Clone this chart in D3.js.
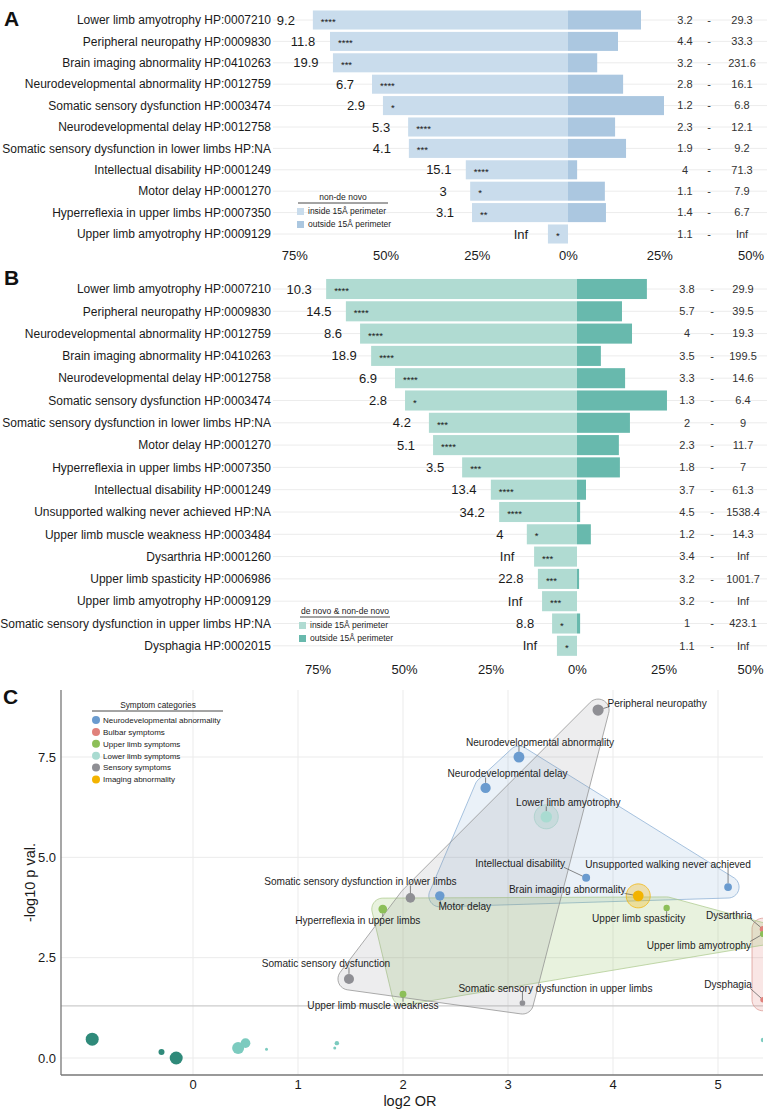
<!DOCTYPE html>
<html>
<head>
<meta charset="utf-8">
<script src="https://cdn.jsdelivr.net/npm/d3@7/dist/d3.min.js"></script>
<style>
body{margin:0;background:#fff}
text{font-family:"Liberation Sans",Arial,Helvetica,sans-serif}
</style>
</head>
<body>
<svg id="fig" width="773" height="1111"></svg>
<script>
// ---- panel A : non-de novo ----
var aLabels = ["Lower limb amyotrophy HP:0007210","Peripheral neuropathy HP:0009830","Brain imaging abnormality HP:0410263",
  "Neurodevelopmental abnormality HP:0012759","Somatic sensory dysfunction HP:0003474","Neurodevelopmental delay HP:0012758",
  "Somatic sensory dysfunction in lower limbs HP:NA","Intellectual disability HP:0001249","Motor delay HP:0001270",
  "Hyperreflexia in upper limbs HP:0007350","Upper limb amyotrophy HP:0009129"];
var aInside  = [69.9, 65.2, 64.4, 53.7, 50.7, 43.8, 43.6, 28.0, 26.8, 26.3, 5.5];
var aOutside = [20.0, 13.7, 8.0, 15.1, 26.3, 12.9, 15.9, 2.5, 10.1, 10.4, 0];
var aOR    = [9.2, 11.8, 19.9, 6.7, 2.9, 5.3, 4.1, 15.1, 3, 3.1, Infinity];
var aStars = ["****","****","***","****","*","****","***","****","*","**","*"];
var aLow   = [3.2, 4.4, 3.2, 2.8, 1.2, 2.3, 1.9, 4, 1.1, 1.4, 1.1];
var aHigh  = [29.3, 33.3, 231.6, 16.1, 6.8, 12.1, 9.2, 71.3, 7.9, 6.7, Infinity];

// ---- panel B : de novo & non-de novo ----
var bLabels = ["Lower limb amyotrophy HP:0007210","Peripheral neuropathy HP:0009830","Neurodevelopmental abnormality HP:0012759",
  "Brain imaging abnormality HP:0410263","Neurodevelopmental delay HP:0012758","Somatic sensory dysfunction HP:0003474",
  "Somatic sensory dysfunction in lower limbs HP:NA","Motor delay HP:0001270","Hyperreflexia in upper limbs HP:0007350",
  "Intellectual disability HP:0001249","Unsupported walking never achieved HP:NA","Upper limb muscle weakness HP:0003484",
  "Dysarthria HP:0001260","Upper limb spasticity HP:0006986","Upper limb amyotrophy HP:0009129",
  "Somatic sensory dysfunction in upper limbs HP:NA","Dysphagia HP:0002015"];
var bInside  = [72.5, 66.8, 62.7, 59.5, 52.6, 49.7, 42.8, 41.6, 33.2, 24.9, 22.5, 14.5, 12.4, 11.3, 10.1, 7.2, 5.8];
var bOutside = [20.2, 13.0, 15.9, 6.9, 13.9, 26.0, 15.3, 12.1, 12.4, 2.6, 0.9, 4.0, 0, 0.6, 0, 0.9, 0];
var bOR    = [10.3, 14.5, 8.6, 18.9, 6.9, 2.8, 4.2, 5.1, 3.5, 13.4, 34.2, 4, Infinity, 22.8, Infinity, 8.8, Infinity];
var bStars = ["****","****","****","****","****","*","***","****","***","****","****","*","***","***","***","*","*"];
var bLow   = [3.8, 5.7, 4, 3.5, 3.3, 1.3, 2, 2.3, 1.8, 3.7, 4.5, 1.2, 3.4, 3.2, 3.2, 1, 1.1];
var bHigh  = [29.9, 39.5, 19.3, 199.5, 14.6, 6.4, 9, 11.7, 7, 61.3, 1538.4, 14.3, Infinity, 1001.7, Infinity, 423.1, Infinity];

// ---- panel C : volcano, same terms as B ----
var cNegLogP  = [6.01, 8.67, 7.50, 4.04, 6.73, 1.97, 3.99, 4.04, 3.71, 4.49, 4.26, 1.59, 3.21, 3.74, 3.09, 1.37, 1.45];
var cCategory = ["lower","sensory","neuro","imaging","neuro","sensory","sensory","neuro","upper","neuro","neuro","upper",
  "bulbar","upper","upper","sensory","bulbar"];
// terms that did not pass the threshold
var nsLog2OR  = [-0.96, -0.30, -0.16, 0.43, 0.50, 0.70, 1.37, 1.35, Infinity];
var nsNegLogP = [0.47, 0.15, 0.00, 0.25, 0.37, 0.22, 0.37, 0.25, 0.45];
var nsSize    = [100, 9, 100, 81, 45, 0, 2, 0, 2];
var nsGroup   = ["out","out","out","in","in","in","in","in","in"];

var catKeys   = ["neuro","bulbar","upper","lower","sensory","imaging"];
var catNames  = ["Neurodevelopmental abnormality","Bulbar symptoms","Upper limb symptoms","Lower limb symptoms","Sensory symptoms","Imaging abnormality"];
var catColors = ["#6a9bcf","#e0817b","#8cbf58","#a9dbd1","#8f8f94","#f3b300"];
var catStroke = ["#86abd2","#d99590","#abc88c","#a9dbd1","#8c8c8c","#f3b300"];
var catFillOp = [0.14, 0.2, 0.2, 0.35, 0.16, 0.3];

// label placement for panel C (text centre relative to point, px)
var labelNudge = {
  "Lower limb amyotrophy":[22,-14], "Peripheral neuropathy":[59,-7], "Neurodevelopmental abnormality":[21,-15],
  "Brain imaging abnormality":[-71,-6], "Neurodevelopmental delay":[22,-14], "Somatic sensory dysfunction":[-23,-15],
  "Somatic sensory dysfunction in lower limbs":[-50,-16], "Motor delay":[25,11], "Hyperreflexia in upper limbs":[-25,11],
  "Intellectual disability":[-66,-14], "Unsupported walking never achieved":[-60,-23], "Upper limb muscle weakness":[-30,11],
  "Dysarthria":[-34,-14], "Upper limb spasticity":[-28,11], "Upper limb amyotrophy":[-64,11],
  "Somatic sensory dysfunction in upper limbs":[33,-15], "Dysphagia":[-35,-15]
};

var svg = d3.select("#fig");
svg.append("rect").attr("width",773).attr("height",1111).attr("fill","#fff");

function fmt(v){ return isFinite(v) ? String(v) : "Inf"; }

function pyramid(cfg){
  var g = svg.append("g");
  var n = cfg.labels.length;
  var x = d3.scaleLinear().domain([-75,50]).range([cfg.zero-75*cfg.k, cfg.zero+50*cfg.k]);
  var y = d3.scaleBand().domain(cfg.labels)
      .range([cfg.y0-cfg.step/2, cfg.y0+(n-0.5)*cfg.step])
      .paddingInner(cfg.pad).paddingOuter(cfg.pad/2);
  var rows = cfg.labels.map(function(l,i){
    return {label:l, inside:cfg.inside[i], outside:cfg.outside[i], or:cfg.or[i], stars:cfg.stars[i], low:cfg.low[i], high:cfg.high[i]};
  });
  var cy = function(d){ return y(d.label)+y.bandwidth()/2; };

  g.append("text").attr("x",4).attr("y",cfg.letterY).text(cfg.letter)
    .attr("font-size",21).attr("font-weight","bold").attr("fill","#111");

  // faint row guides
  g.selectAll(".grid").data(rows).enter().append("line")
    .attr("x1",273).attr("x2",767).attr("y1",cy).attr("y2",cy)
    .attr("stroke","#ececec").attr("stroke-width",1);

  g.selectAll(".lab").data(rows).enter().append("text")
    .attr("x",271).attr("y",cy).attr("dy","0.35em").attr("text-anchor","end")
    .attr("font-size",12).attr("fill","#1a1a1a").text(function(d){return d.label;});

  g.selectAll(".bin").data(rows).enter().append("rect")
    .attr("x",function(d){return x(-d.inside);}).attr("y",function(d){return y(d.label);})
    .attr("width",function(d){return x(0)-x(-d.inside);}).attr("height",y.bandwidth())
    .attr("fill",cfg.cIn);
  g.selectAll(".bout").data(rows).enter().append("rect")
    .attr("x",x(0)).attr("y",function(d){return y(d.label);})
    .attr("width",function(d){return x(d.outside)-x(0);}).attr("height",y.bandwidth())
    .attr("fill",cfg.cOut);

  g.selectAll(".or").data(rows).enter().append("text")
    .attr("x",function(d){return x(-d.inside)-27;}).attr("y",cy).attr("dy","0.35em")
    .attr("text-anchor","middle").attr("font-size",13).attr("fill","#1a1a1a")
    .text(function(d){return fmt(d.or);});
  g.selectAll(".st").data(rows).enter().append("text")
    .attr("x",function(d){return x(-d.inside)+8;}).attr("y",function(d){return cy(d)+5;})
    .attr("font-size",9.5).attr("fill","#1a1a1a").text(function(d){return d.stars;});

  g.selectAll(".lo").data(rows).enter().append("text")
    .attr("x",cfg.ciX[0]).attr("y",cy).attr("dy","0.35em").attr("text-anchor","middle")
    .attr("font-size",11).attr("fill","#333").text(function(d){return fmt(d.low);});
  g.selectAll(".da").data(rows).enter().append("text")
    .attr("x",cfg.ciX[1]).attr("y",cy).attr("dy","0.35em").attr("text-anchor","middle")
    .attr("font-size",11).attr("fill","#333").text("-");
  g.selectAll(".hi").data(rows).enter().append("text")
    .attr("x",cfg.ciX[2]).attr("y",cy).attr("dy","0.35em").attr("text-anchor","middle")
    .attr("font-size",11).attr("fill","#333").text(function(d){return fmt(d.high);});

  var ax = g.append("g").attr("transform","translate(0,"+cfg.axisY+")")
    .call(d3.axisBottom(x).tickValues([-75,-50,-25,0,25,50])
      .tickFormat(function(d){return Math.abs(d)+"%";}).tickSize(0).tickPadding(0));
  ax.select(".domain").remove();
  ax.attr("font-family",null).attr("font-size",null);
  ax.selectAll("text").attr("y",0).attr("dy","0.35em").attr("font-size",13).attr("fill","#1a1a1a");

  // legend
  var lg = g.append("g").attr("transform","translate("+cfg.legX+","+cfg.legY+")");
  lg.append("text").attr("x",45).attr("y",0).attr("dy","0.35em").attr("text-anchor","middle")
    .attr("font-size",8.5).attr("fill","#222").text(cfg.legTitle);
  lg.append("line").attr("x1",0).attr("x2",90).attr("y1",6).attr("y2",6).attr("stroke","#333").attr("stroke-width",0.9);
  [["inside 15Å perimeter",cfg.cIn],["outside 15Å perimeter",cfg.cOut]].forEach(function(it,i){
    lg.append("rect").attr("x",-1).attr("y",11+i*13).attr("width",7).attr("height",7).attr("fill",it[1]);
    lg.append("text").attr("x",10).attr("y",14.5+i*13).attr("dy","0.35em").attr("font-size",8.5)
      .attr("fill","#222").text(it[0]);
  });
}

pyramid({letter:"A", letterY:26, labels:aLabels, inside:aInside, outside:aOutside, or:aOR, stars:aStars, low:aLow, high:aHigh,
  zero:568, k:3.65, y0:20, step:21.4, pad:0.11, axisY:255, ciX:[685,709,742],
  cIn:"#c9dcec", cOut:"#abc7e0", legX:298, legY:197, legTitle:"non-de novo"});
pyramid({letter:"B", letterY:285, labels:bLabels, inside:bInside, outside:bOutside, or:bOR, stars:bStars, low:bLow, high:bHigh,
  zero:577, k:3.46, y0:289, step:22.3, pad:0.1, axisY:669, ciX:[687,712,743],
  cIn:"#b0dbd2", cOut:"#68b9ad", legX:300, legY:611, legTitle:"de novo & non-de novo"});

// ---- panel C ----
var gc = svg.append("g");
var L = 61, R = 763, T = 690, B = 1075;
var xC = d3.scaleLinear().domain([(L-193)/105, (R-193)/105]).range([L,R]);
var yC = d3.scaleLinear().domain([(1058-B)/40.13, (1058-T)/40.13]).range([B,T]);
var rC = d3.scaleSqrt().domain([0,100]).range([1.5,6.5]);
var xPos = function(v){ return isFinite(v) ? xC(v) : R; };
var colorOf = d3.scaleOrdinal().domain(catKeys).range(catColors);
var strokeOf = d3.scaleOrdinal().domain(catKeys).range(catStroke);
var fillOpOf = d3.scaleOrdinal().domain(catKeys).range(catFillOp);

gc.append("text").attr("x",3).attr("y",704).text("C").attr("font-size",21).attr("font-weight","bold").attr("fill","#111");

svg.append("defs").append("clipPath").attr("id","plotclip")
  .append("rect").attr("x",L).attr("y",T).attr("width",R-L).attr("height",B-T);

gc.selectAll(".vg").data([0,1,2,3,4,5]).enter().append("line")
  .attr("x1",xC).attr("x2",xC).attr("y1",T).attr("y2",B).attr("stroke","#ebebeb").attr("stroke-width",1);
gc.selectAll(".hg").data([0,2.5,5,7.5]).enter().append("line")
  .attr("x1",L).attr("x2",R).attr("y1",yC).attr("y2",yC).attr("stroke","#ebebeb").attr("stroke-width",1);

var pc = gc.append("g").attr("clip-path","url(#plotclip)");
pc.append("line").attr("x1",L).attr("x2",R).attr("y1",yC(-Math.log10(0.05))).attr("y2",yC(-Math.log10(0.05)))
  .attr("stroke","#cccccc").attr("stroke-width",1.3);

var terms = bLabels.map(function(l,i){
  var name = l.replace(/ HP:.*$/,"");
  return {name:name, cat:cCategory[i], or:bOR[i], size:bInside[i],
    px:xPos(Math.log2(bOR[i])), py:yC(cNegLogP[i])};
});

// hulls around each symptom category
catKeys.forEach(function(c){
  var pts = terms.filter(function(d){return d.cat===c;});
  if(!pts.length) return;
  var rad = pts.length===1 ? 12 : 11, cloud = [];
  pts.forEach(function(p){
    for(var a=0;a<40;a++){ var t=a/40*2*Math.PI; cloud.push([p.px+rad*Math.cos(t), p.py+rad*Math.sin(t)]); }
  });
  var hull = d3.polygonHull(cloud);
  pc.append("path").attr("d","M"+hull.join("L")+"Z")
    .attr("fill",colorOf(c)).attr("fill-opacity",fillOpOf(c))
    .attr("stroke",strokeOf(c)).attr("stroke-opacity",0.9).attr("stroke-width",0.8);
});

var ns = nsLog2OR.map(function(v,i){ return {px:xPos(v), py:yC(nsNegLogP[i]), size:nsSize[i], grp:nsGroup[i]}; });
pc.selectAll(".ns").data(ns).enter().append("circle")
  .attr("cx",function(d){return d.px;}).attr("cy",function(d){return d.py;})
  .attr("r",function(d){return rC(d.size);})
  .attr("fill",function(d){return d.grp==="out" ? "#2f8a7a" : "#7ccbbf";});

pc.selectAll(".pt").data(terms).enter().append("circle")
  .attr("cx",function(d){return d.px;}).attr("cy",function(d){return d.py;})
  .attr("r",function(d){return rC(d.size);}).attr("fill",function(d){return colorOf(d.cat);});

// labels with leader segments
var lab = gc.append("g");
terms.forEach(function(d){
  var nud = labelNudge[d.name];
  var t = lab.append("text").attr("x",d.px+nud[0]).attr("y",d.py+nud[1]).attr("dy","0.35em")
    .attr("text-anchor","middle").attr("font-size",10.1).attr("fill","#1e1e1e").text(d.name);
  var bb = t.node().getBBox();
  var qx = Math.max(bb.x+2, Math.min(bb.x+bb.width-2, d.px));
  var qy = Math.max(bb.y+2, Math.min(bb.y+bb.height-2, d.py));
  var dx = qx-d.px, dy = qy-d.py, dist = Math.sqrt(dx*dx+dy*dy), r0 = rC(d.size);
  if(dist > r0+2){
    lab.insert("line","text").attr("x1",d.px+dx/dist*r0).attr("y1",d.py+dy/dist*r0)
      .attr("x2",qx).attr("y2",qy).attr("stroke","#555").attr("stroke-width",0.7);
  }
});

// axes
gc.append("line").attr("x1",L).attr("x2",L).attr("y1",T).attr("y2",B).attr("stroke","#777").attr("stroke-width",1.3);
gc.append("line").attr("x1",L).attr("x2",R).attr("y1",B).attr("y2",B).attr("stroke","#777").attr("stroke-width",1.3);
gc.selectAll(".xt").data([0,1,2,3,4,5]).enter().append("text")
  .attr("x",xC).attr("y",1084).attr("dy","0.35em").attr("text-anchor","middle").attr("font-size",13).attr("fill","#1a1a1a")
  .text(function(d){return d;});
gc.selectAll(".yt").data([0,2.5,5,7.5]).enter().append("text")
  .attr("x",56).attr("y",yC).attr("dy","0.35em").attr("text-anchor","end").attr("font-size",13).attr("fill","#1a1a1a")
  .text(d3.format(".1f"));
gc.append("text").attr("x",410).attr("y",1101).attr("dy","0.35em").attr("text-anchor","middle")
  .attr("font-size",14.5).attr("fill","#1a1a1a").text("log2 OR");
gc.append("text").attr("transform","translate(30,"+((T+B)/2)+") rotate(-90)").attr("dy","0.35em")
  .attr("text-anchor","middle").attr("font-size",14.5).attr("fill","#1a1a1a").text("-log10 p val.");

// category legend
var lc = gc.append("g").attr("transform","translate(92,705)");
lc.append("text").attr("x",66).attr("y",0).attr("dy","0.35em").attr("text-anchor","middle")
  .attr("font-size",8.3).attr("fill","#222").text("Symptom categories");
lc.append("line").attr("x1",0).attr("x2",131).attr("y1",6).attr("y2",6).attr("stroke","#333").attr("stroke-width",0.9);
catKeys.forEach(function(c,i){
  lc.append("circle").attr("cx",4).attr("cy",15+i*11.9).attr("r",4).attr("fill",colorOf(c));
  lc.append("text").attr("x",11).attr("y",15+i*11.9).attr("dy","0.35em").attr("font-size",8)
    .attr("fill","#222").text(catNames[i]);
});
</script>
</body>
</html>
